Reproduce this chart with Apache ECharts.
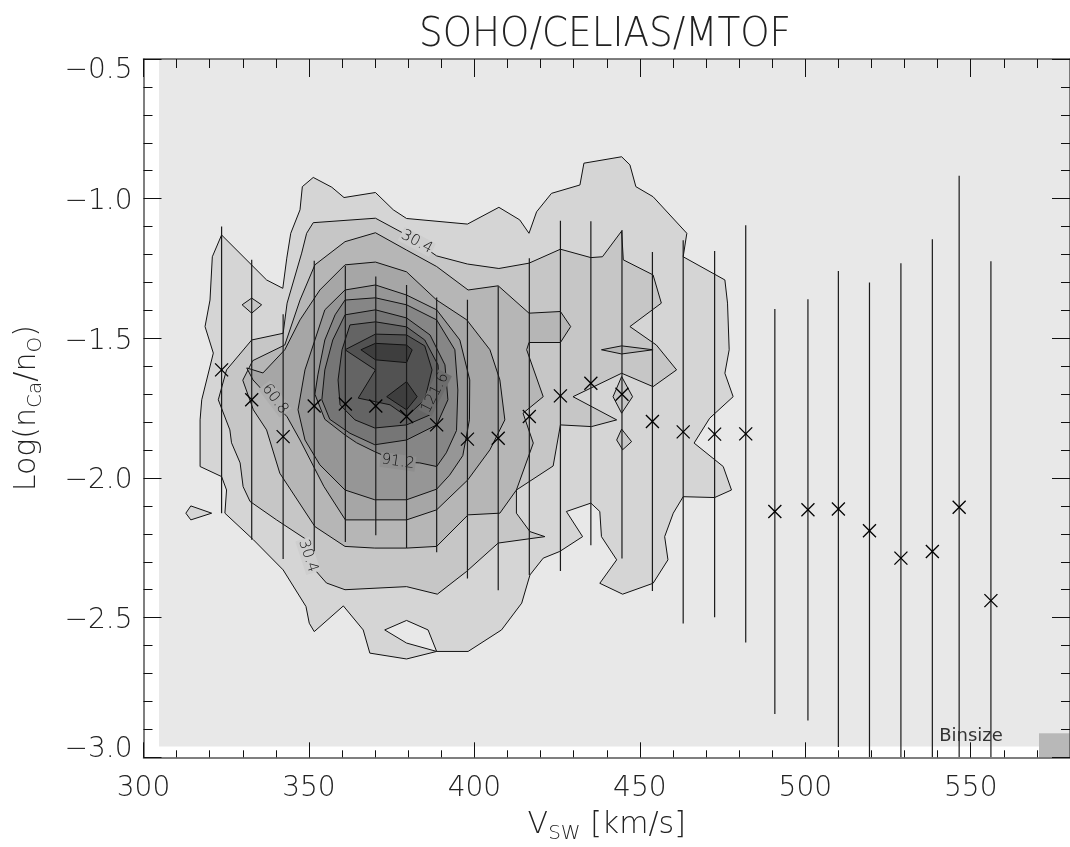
<!DOCTYPE html>
<html><head><meta charset="utf-8">
<script src="https://cdn.jsdelivr.net/npm/echarts@6/dist/echarts.min.js"></script>
<style>html,body{margin:0;padding:0;background:#fff}#c{width:1070px;height:847px}</style>
</head><body><div id="c"></div>
<script>
// ---------------- DATA ----------------
const xRange = [300, 580];
const yRange = [-3.0, -0.5];
const histExtentV = [304.7, 580];
const histExtentLog = [-2.961, -0.5];
const binSize = [9.37, 0.086];

const vBins = [323.6,332.7,342.2,351.6,361.0,370.2,379.5,388.6,397.9,407.2,416.6,426.0,435.2,444.6,453.8,463.1,472.6,482.0,490.8,500.8,510.0,519.4,528.9,538.4,546.5,556.1];
const meanLogRatio = [-1.613,-1.720,-1.852,-1.742,-1.735,-1.742,-1.780,-1.810,-1.861,-1.858,-1.780,-1.706,-1.661,-1.700,-1.798,-1.835,-1.843,-1.842,-2.120,-2.114,-2.111,-2.189,-2.287,-2.263,-2.105,-2.439];
const stdLogRatio = [0.513,0.501,0.438,0.52,0.494,0.463,0.471,0.456,0.499,0.544,0.567,0.627,0.580,0.588,0.607,0.686,0.656,0.747,0.725,0.754,0.852,0.889,1.056,1.118,1.187,1.215];

const contourLevels = [15.2, 30.4, 45.6, 60.8, 76.0, 91.2, 106.4, 121.6, 136.8, 152.0];
const levelFills = ['#d5d5d5','#c6c6c6','#b6b6b6','#a6a6a6','#969696','#868686','#767676','#646464','#525252','#3e3e3e'];
const backgroundFill = '#e8e8e8';

const contourL1 = [[323.6,-1.130],[337.2,-1.291],[342.1,-1.321],[343.3,-1.213],[344.5,-1.124],[347.3,-1.040],[348.0,-0.957],[351.3,-0.924],[356.9,-0.959],[360.6,-0.996],[370.1,-0.978],[375.5,-1.040],[379.5,-1.071],[397.9,-1.091],[407.4,-1.031],[413.7,-1.076],[416.5,-1.124],[418.8,-1.047],[423.3,-0.981],[431.9,-0.951],[433.1,-0.873],[444.5,-0.850],[447.0,-0.879],[448.8,-0.957],[454.0,-0.993],[464.2,-1.124],[463.1,-1.208],[475.7,-1.291],[476.5,-1.374],[477.0,-1.541],[475.7,-1.625],[478.2,-1.709],[471.1,-1.786],[466.4,-1.875],[475.2,-1.959],[477.7,-2.043],[472.6,-2.070],[463.1,-2.067],[460.1,-2.126],[457.5,-2.210],[458.5,-2.293],[454.0,-2.377],[444.8,-2.416],[437.9,-2.377],[443.0,-2.293],[438.4,-2.210],[437.9,-2.120],[435.2,-2.090],[427.8,-2.120],[432.7,-2.210],[425.8,-2.263],[420.8,-2.287],[416.8,-2.347],[414.3,-2.448],[408.2,-2.544],[398.1,-2.621],[388.6,-2.621],[379.5,-2.648],[368.4,-2.627],[366.4,-2.544],[360.4,-2.458],[351.6,-2.550],[350.1,-2.520],[349.1,-2.460],[342.2,-2.329],[333.2,-2.221],[324.6,-2.126],[325.1,-2.043],[323.6,-1.995],[317.1,-1.959],[317.1,-1.792],[317.6,-1.720],[321.1,-1.553],[318.6,-1.458],[320.1,-1.363],[320.8,-1.208]];
const contourL1Hole = [[372.9,-2.544],[379.5,-2.510],[386.0,-2.544],[388.6,-2.621],[379.5,-2.591]];
const contourL1Island = [[312.8,-2.126],[314.3,-2.100],[320.6,-2.126],[314.3,-2.150]];

const contourL2 = [[351.3,-1.086],[370.1,-1.070],[379.5,-1.130],[388.6,-1.205],[397.9,-1.234],[407.4,-1.250],[416.5,-1.231],[426.0,-1.181],[435.2,-1.211],[438.7,-1.208],[444.5,-1.116],[445.0,-1.219],[454.0,-1.273],[456.5,-1.374],[447.0,-1.458],[455.0,-1.524],[461.1,-1.613],[454.0,-1.673],[444.5,-1.625],[429.8,-1.709],[443.0,-1.792],[435.4,-1.816],[426.0,-1.810],[423.8,-1.957],[412.7,-2.043],[412.7,-2.126],[416.8,-2.192],[421.3,-2.210],[407.2,-2.233],[397.6,-2.335],[388.8,-2.416],[379.5,-2.389],[360.9,-2.400],[355.3,-2.376],[351.8,-2.329],[349.3,-2.221],[340.2,-2.150],[332.2,-2.084],[330.1,-2.031],[329.2,-1.946],[326.6,-1.874],[326.1,-1.828],[322.6,-1.720],[325.1,-1.613],[332.7,-1.506],[342.2,-1.482],[343.4,-1.374],[347.8,-1.195],[349.3,-1.124]];
const contourL2IslandA = [[329.8,-1.380],[332.7,-1.356],[335.7,-1.380],[332.7,-1.410]];
const contourL2IslandB = [[441.9,-1.709],[444.5,-1.637],[447.8,-1.709],[444.5,-1.768]];
const contourL2IslandC = [[443.0,-1.864],[444.5,-1.825],[447.5,-1.870],[444.8,-1.899]];

const contourL3 = [[360.9,-1.154],[370.1,-1.122],[379.5,-1.184],[388.6,-1.243],[398.1,-1.327],[407.2,-1.312],[416.5,-1.410],[426.0,-1.404],[429.1,-1.458],[426.0,-1.515],[416.5,-1.515],[415.8,-1.541],[420.8,-1.709],[414.7,-1.768],[417.8,-1.875],[412.7,-2.043],[407.7,-2.126],[398.1,-2.132],[388.6,-2.245],[379.5,-2.251],[369.9,-2.251],[360.9,-2.245],[351.8,-2.174],[341.2,-1.983],[337.2,-1.828],[333.2,-1.756],[330.0,-1.650],[333.0,-1.580],[342.7,-1.524],[347.3,-1.363],[351.8,-1.237]];
const contourL3Lens = [[438.4,-1.541],[444.5,-1.527],[454.0,-1.541],[444.5,-1.556]];
const contourL4 = [[360.9,-1.237],[370.1,-1.227],[379.5,-1.262],[388.6,-1.363],[397.7,-1.434],[404.7,-1.541],[407.7,-1.649],[409.2,-1.792],[404.7,-1.899],[398.0,-2.007],[388.6,-2.114],[379.5,-2.150],[369.9,-2.150],[361.0,-2.150],[354.5,-2.030],[347.3,-1.864],[343.4,-1.781],[333.1,-1.649],[331.2,-1.606],[336.1,-1.624],[342.7,-1.541],[347.3,-1.434],[353.3,-1.327]];
const contourL5 = [[360.9,-1.327],[370.1,-1.309],[379.5,-1.345],[388.6,-1.398],[395.6,-1.506],[398.6,-1.649],[398.5,-1.792],[396.5,-1.920],[392.5,-1.990],[388.6,-2.040],[379.5,-2.078],[369.9,-2.078],[360.9,-2.043],[353.3,-1.953],[348.8,-1.864],[346.7,-1.756],[348.8,-1.613],[351.8,-1.506],[354.8,-1.398]];
const contourL6 = [[360.9,-1.363],[370.1,-1.355],[379.5,-1.380],[388.6,-1.434],[394.1,-1.541],[395.0,-1.685],[394.6,-1.830],[391.5,-1.910],[388.6,-1.959],[383.5,-1.946],[376.9,-1.942],[369.9,-1.906],[364.4,-1.874],[360.9,-1.846],[354.8,-1.790],[351.8,-1.700],[352.7,-1.631],[354.8,-1.506],[357.9,-1.416]];
const contourL7 = [[360.9,-1.416],[370.1,-1.398],[379.5,-1.427],[386.6,-1.488],[391.1,-1.595],[392.0,-1.720],[388.6,-1.810],[379.5,-1.864],[369.9,-1.881],[362.4,-1.840],[356.3,-1.790],[353.9,-1.720],[354.8,-1.613],[357.2,-1.506]];
const contourL8 = [[362.4,-1.452],[370.1,-1.441],[379.5,-1.459],[385.0,-1.506],[389.0,-1.595],[389.6,-1.703],[386.6,-1.774],[379.5,-1.810],[369.9,-1.821],[363.9,-1.792],[359.4,-1.738],[358.8,-1.649],[360.0,-1.541]];
const contourL9 = [[360.9,-1.541],[370.1,-1.485],[379.5,-1.488],[385.0,-1.527],[387.2,-1.613],[385.0,-1.720],[379.5,-1.780],[374.5,-1.738],[364.9,-1.714],[370.1,-1.613]];
const contourL10a = [[365.7,-1.541],[370.1,-1.518],[379.5,-1.524],[381.2,-1.541],[379.5,-1.587],[370.1,-1.577]];
const contourL10b = [[373.5,-1.709],[379.5,-1.655],[382.7,-1.709],[379.5,-1.756]];

const contourLabelText = ['30.4','60.8','121.6','91.2','30.4'];
const contourLabelV = [382.6, 339.7, 388.1, 376.9, 349.7];
const contourLabelLog = [-1.155, -1.717, -1.695, -1.942, -2.279];
const contourLabelAngle = [-28, -53, 63, -8, -72];
const contourLabelBg = ['#cecece', '#aeaeae', '#6d6d6d', '#8e8e8e', '#cecece'];

// ------------- build polygons (draw order) -------------
const polys = [
  {pts: contourL1, fill: levelFills[0]},
  {pts: contourL1Island, fill: levelFills[0]},
  {pts: contourL1Hole, fill: backgroundFill},
  {pts: contourL2, fill: levelFills[1]},
  {pts: contourL2IslandA, fill: levelFills[1]},
  {pts: contourL2IslandB, fill: levelFills[1]},
  {pts: contourL2IslandC, fill: levelFills[1]},
  {pts: contourL3, fill: levelFills[2]},
  {pts: contourL3Lens, fill: levelFills[2]},
  {pts: contourL4, fill: levelFills[3]},
  {pts: contourL5, fill: levelFills[4]},
  {pts: contourL6, fill: levelFills[5]},
  {pts: contourL7, fill: levelFills[6]},
  {pts: contourL8, fill: levelFills[7]},
  {pts: contourL9, fill: levelFills[8]},
  {pts: contourL10a, fill: levelFills[9]},
  {pts: contourL10b, fill: levelFills[9]}
];

const FONT = "'DejaVu Sans', 'Liberation Sans', sans-serif";
const TXT = '#222';
const chart = echarts.init(document.getElementById('c'), null, {renderer: 'canvas'});

function fmtY(v) {
  const s = (Math.abs(v) < 1e-9 ? '0.0' : v.toFixed(1)).replace('-', '\u2212');
  if (Math.abs(v - yRange[1]) < 1e-9) return '{t|' + s + '}';
  if (Math.abs(v - yRange[0]) < 1e-9) return '{b|' + s + '}';
  return '{m|' + s + '}';
}

const tickStyle = {color: '#111', width: 1};
const lineStyle = {color: '#555', width: 1.5};
const nameRich = {s: {fontFamily: FONT, fontSize: 20, fontWeight: 200, lineHeight: 36, verticalAlign: 'bottom', color: TXT}};

const option = {
  animation: false,
  backgroundColor: '#fff',
  grid: {left: 143.5, right: 0, top: 59, bottom: 89.7, containLabel: false, outerBoundsMode: 'none'},
  graphic: [
    {type: 'text', x: 605, y: 35, scaleX: 0.91, z: 20,
     style: {text: 'SOHO/CELIAS/MTOF', font: '200 41px ' + FONT, fill: TXT, align: 'center', verticalAlign: 'middle'}},
    {type: 'text', x: 971, y: 736, z: 20,
     style: {text: 'Binsize', font: '18px ' + FONT, fill: '#333', align: 'center', verticalAlign: 'middle'}}
  ],
  xAxis: [
    {type: 'value', position: 'bottom', min: xRange[0], max: xRange[1], interval: 50, z: 10,
     axisLine: {show: true, lineStyle: lineStyle},
     axisTick: {show: true, inside: true, length: 15, lineStyle: tickStyle},
     splitLine: {show: false},
     axisLabel: {show: true, showMaxLabel: false, margin: 17, color: TXT, fontFamily: FONT, fontSize: 28, fontWeight: 200},
     name: 'V{s|SW} [km/s]', nameLocation: 'middle', nameGap: 50,
     nameTextStyle: {color: TXT, fontFamily: FONT, fontSize: 30, fontWeight: 200, lineHeight: 30, verticalAlign: 'top', rich: nameRich}},
    {type: 'value', position: 'bottom', min: xRange[0], max: xRange[1], interval: 10, z: 10,
     axisLine: {show: false}, axisTick: {show: true, inside: true, length: 7, lineStyle: tickStyle},
     axisLabel: {show: false}, splitLine: {show: false}},
    {type: 'value', position: 'top', min: xRange[0], max: xRange[1], interval: 50, z: 10,
     axisLine: {show: true, lineStyle: lineStyle}, axisTick: {show: true, inside: true, length: 18, lineStyle: tickStyle},
     axisLabel: {show: false}, splitLine: {show: false}},
    {type: 'value', position: 'top', min: xRange[0], max: xRange[1], interval: 10, z: 10,
     axisLine: {show: false}, axisTick: {show: true, inside: true, length: 9, lineStyle: tickStyle},
     axisLabel: {show: false}, splitLine: {show: false}}
  ],
  yAxis: [
    {type: 'value', position: 'left', min: yRange[0], max: yRange[1], interval: 0.5, z: 10,
     axisLine: {show: true, lineStyle: lineStyle},
     axisTick: {show: true, inside: true, length: 18, lineStyle: tickStyle},
     minorTick: {show: true, splitNumber: 5, length: 9, lineStyle: tickStyle},
     splitLine: {show: false}, minorSplitLine: {show: false},
     axisLabel: {show: true, margin: 11, formatter: fmtY, color: TXT, fontFamily: FONT, fontSize: 28, fontWeight: 200,
       rich: {t: {padding: [24,0,0,0], fontFamily: FONT, fontSize: 28, fontWeight: 200, color: TXT},
              b: {padding: [0,0,16,0], fontFamily: FONT, fontSize: 28, fontWeight: 200, color: TXT},
              m: {padding: [6,0,0,0], fontFamily: FONT, fontSize: 28, fontWeight: 200, color: TXT}}},
     name: 'Log(n{s|Ca}/n{s|O})', nameLocation: 'middle', nameGap: 98, nameRotate: 90,
     nameTextStyle: {color: TXT, fontFamily: FONT, fontSize: 30, fontWeight: 200, lineHeight: 30, rich: nameRich}},
    {type: 'value', position: 'right', min: yRange[0], max: yRange[1], interval: 0.5, z: 10,
     axisLine: {show: true, lineStyle: lineStyle},
     axisTick: {show: true, inside: true, length: 18, lineStyle: tickStyle},
     minorTick: {show: true, splitNumber: 5, length: 9, lineStyle: tickStyle},
     splitLine: {show: false}, axisLabel: {show: false}}
  ],
  series: [
    {type: 'custom', coordinateSystem: 'cartesian2d', xAxisIndex: 0, yAxisIndex: 0, z: 1, clip: true, silent: true,
     data: [[histExtentV[0], histExtentLog[1], histExtentV[1], histExtentLog[0]]],
     renderItem: function (params, api) {
       const p0 = api.coord([api.value(0), api.value(1)]);
       const p1 = api.coord([api.value(2), api.value(3)]);
       return {type: 'rect', shape: {x: p0[0], y: p0[1], width: p1[0] - p0[0], height: p1[1] - p0[1]},
               style: {fill: backgroundFill}};
     }},
    {type: 'custom', coordinateSystem: 'cartesian2d', xAxisIndex: 0, yAxisIndex: 0, z: 3, silent: true,
     data: [[xRange[1] - binSize[0], yRange[0] + binSize[1], xRange[1], yRange[0]]],
     renderItem: function (params, api) {
       const p0 = api.coord([api.value(0), api.value(1)]);
       const p1 = api.coord([api.value(2), api.value(3)]);
       return {type: 'rect', shape: {x: p0[0], y: p0[1], width: p1[0] - p0[0], height: p1[1] - p0[1]},
               style: {fill: '#b8b8b8'}};
     }},
    {type: 'custom', coordinateSystem: 'cartesian2d', xAxisIndex: 0, yAxisIndex: 0, z: 2, clip: true, silent: true,
     data: polys.map((p, i) => [i]),
     renderItem: function (params, api) {
       const poly = polys[params.dataIndex];
       const pts = poly.pts.map(q => api.coord(q));
       return {type: 'polygon', shape: {points: pts},
               style: {fill: poly.fill, stroke: '#111', lineWidth: 1}};
     }},
    {type: 'custom', coordinateSystem: 'cartesian2d', xAxisIndex: 0, yAxisIndex: 0, z: 3, silent: true,
     data: contourLabelText.map((t, i) => [contourLabelV[i], contourLabelLog[i], i]),
     renderItem: function (params, api) {
       const i = params.dataIndex;
       const p = api.coord([api.value(0), api.value(1)]);
       return {type: 'text', x: p[0], y: p[1], rotation: contourLabelAngle[i] * Math.PI / 180,
               style: {text: contourLabelText[i], font: '200 15px ' + FONT, fill: '#111',
                       align: 'center', verticalAlign: 'middle',
                       backgroundColor: contourLabelBg[i], padding: [0, 1]}};
     }},
    {type: 'custom', coordinateSystem: 'cartesian2d', xAxisIndex: 0, yAxisIndex: 0, z: 4, clip: true, silent: true,
     data: vBins.map((v, i) => [v, meanLogRatio[i], stdLogRatio[i]]),
     renderItem: function (params, api) {
       const v = api.value(0), m = api.value(1), s = api.value(2);
       const cs = params.coordSys;
       const top = api.coord([v, m + s]);
       const bot = api.coord([v, m - s]);
       const c = api.coord([v, m]);
       const yb = Math.min(bot[1], cs.y + cs.height);
       const h = 6.5;
       const st = {stroke: '#1a1a1a', lineWidth: 1.2};
       return {type: 'group', children: [
         {type: 'line', shape: {x1: top[0], y1: top[1], x2: bot[0], y2: yb}, style: st},
         {type: 'line', shape: {x1: c[0] - h, y1: c[1] - h, x2: c[0] + h, y2: c[1] + h}, style: {stroke: '#000', lineWidth: 1.3}},
         {type: 'line', shape: {x1: c[0] - h, y1: c[1] + h, x2: c[0] + h, y2: c[1] - h}, style: {stroke: '#000', lineWidth: 1.3}}
       ]};
     }}
  ]
};
chart.setOption(option);
</script></body></html>
